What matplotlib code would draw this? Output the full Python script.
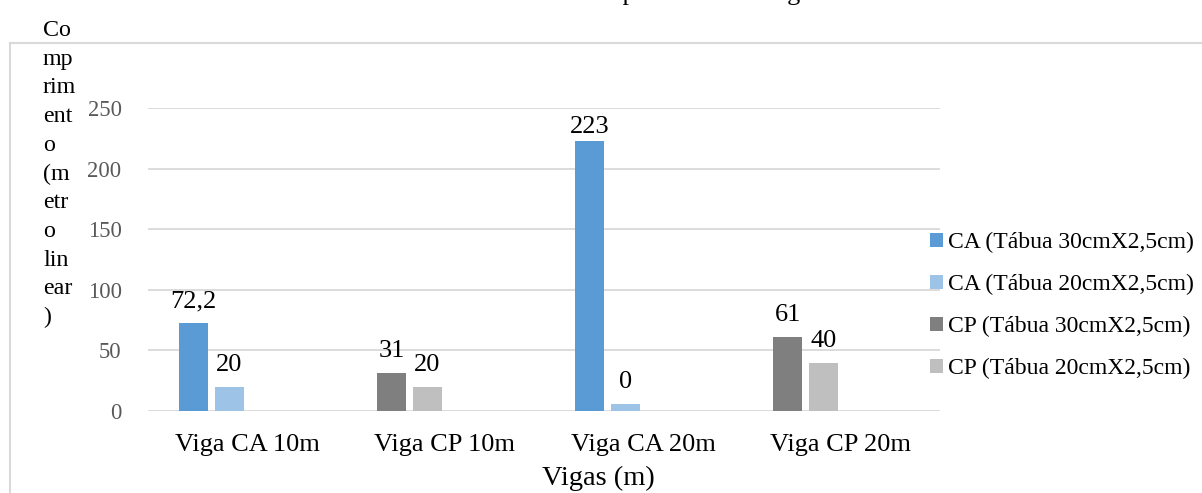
import matplotlib
matplotlib.use('Agg')
import matplotlib.pyplot as plt
import numpy as np

plt.rcParams['font.family'] = ['Liberation Serif', 'DejaVu Serif']

categories = ['Viga CA 10m', 'Viga CP 10m', 'Viga CA 20m', 'Viga CP 20m']
series_names = ['CA (Tábua 30cmX2,5cm)', 'CA (Tábua 20cmX2,5cm)',
                'CP (Tábua 30cmX2,5cm)', 'CP (Tábua 20cmX2,5cm)']
ca30 = [72.2, np.nan, 223, np.nan]
ca20 = [20, np.nan, 6, np.nan]
cp30 = [np.nan, 31, np.nan, 61]
cp20 = [np.nan, 20, np.nan, 40]
ca30_lbl = ['72,2', '', '223', '']
ca20_lbl = ['20', '', '0', '']
cp30_lbl = ['', '31', '', '61']
cp20_lbl = ['', '20', '', '40']
yticks = [0, 50, 100, 150, 200, 250]

colors = ['#5B9BD5', '#9DC3E6', '#7F7F7F', '#BFBFBF']
GRID = '#D9D9D9'
FS_BIG = 19     # category labels, data labels
FS_TICK = 16.3
FS_LEG = 17

fig = plt.figure(figsize=(12.02, 4.93), dpi=100)
ax = fig.add_axes([148/1202, 1-411/493, (940-148)/1202, (411-108)/493])

x = np.arange(len(categories))
step = 0.179
bw = 0.146
# excel keeps four slots per group; points sit in the first two slots
slots = [-1.5, -0.5, -1.5, -0.5]
data = [ca30, ca20, cp30, cp20]
labels = [ca30_lbl, ca20_lbl, cp30_lbl, cp20_lbl]
handles = []
for vals, lbls, c, s, name in zip(data, labels, colors, slots, series_names):
    bars = ax.bar(x + s*step, vals, bw, color=c, label=name, zorder=3)
    handles.append(bars)
    for b, v, l in zip(bars, vals, lbls):
        if l:
            # label baseline ~16px above the bar, kept inside the plot area
            yb = min(v + 13.2, 229.5)
            ax.text(b.get_x() + b.get_width()/2, yb, l, ha='center',
                    va='baseline', fontsize=FS_BIG, color='black',
                    clip_on=False)

ax.set_xlim(-0.5, 3.5)
ax.set_ylim(0, 250)
ax.set_yticks(yticks)
ax.set_xticks(x)
ax.set_xticklabels(categories, fontsize=FS_BIG, color='black')
ax.tick_params(axis='y', length=0, pad=19, labelsize=FS_TICK,
               labelcolor='#595959')
ax.tick_params(axis='x', length=0, pad=16.5)
ax.grid(axis='y', color=GRID, lw=1.3, zorder=0)
for sp in ax.spines.values():
    sp.set_visible(False)

fig.text(598/1202, 1-478/493, 'Vigas (m)', ha='center', va='center',
         fontsize=20.5)
fig.text(43/1202, 1-20/493,
         'Co\nmp\nrim\nent\no\n(m\netr\no\nlin\near\n)',
         ha='left', va='top', fontsize=17.3, linespacing=1.48)
fig.text(571/1202, 1.0, 'Comprimento das vigas', ha='left',
         va='baseline', fontsize=FS_BIG)

leg = fig.legend(handles=handles, loc='upper left',
                 bbox_to_anchor=(909/1202, 1-211/493), frameon=False,
                 fontsize=FS_LEG, handlelength=0.55, handleheight=0.55,
                 handletextpad=0.2, labelspacing=0.88)

# chart area border
fig.add_artist(plt.Line2D([10/1202, 10/1202], [0, 1-43/493],
                          color=GRID, lw=1.5, transform=fig.transFigure))
fig.add_artist(plt.Line2D([10/1202, 1], [1-43/493, 1-43/493],
                          color=GRID, lw=1.5, transform=fig.transFigure))

fig.savefig('out.png', dpi=100, facecolor='white')
